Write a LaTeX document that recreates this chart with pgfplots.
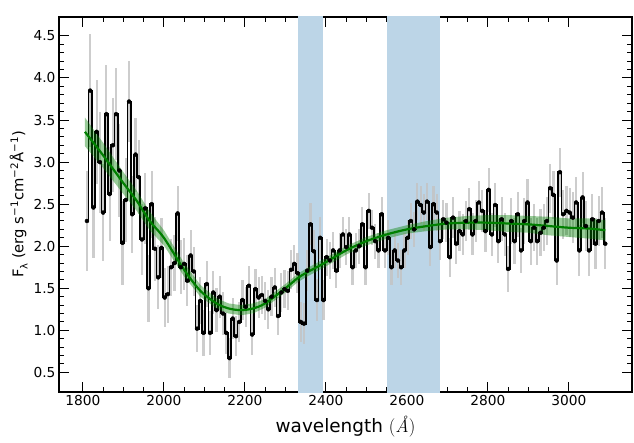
\documentclass[border=0pt]{standalone}
\usepackage{fontspec}
\setsansfont{DejaVu Sans}
\renewcommand{\familydefault}{\sfdefault}
\usepackage{pgfplots}
\usepackage{pgfplotstable}
\pgfplotsset{compat=1.18}
\definecolor{bandblue}{RGB}{188,213,231}
\definecolor{mplgreen}{RGB}{0,128,0}
\definecolor{errgray}{RGB}{196,196,196}

\pgfplotstableread{
x y e
1810 2.30 0.60
1818 3.85 0.67
1826 2.46 0.60
1834 3.36 0.62
1842 3.00 0.60
1850 2.40 0.58
1858 3.57 0.58
1866 2.62 0.56
1874 3.20 0.56
1882 3.57 0.55
1890 2.90 0.55
1898 2.04 0.50
1906 2.55 0.50
1914 3.72 0.48
1922 2.38 0.46
1930 3.09 0.44
1938 2.82 0.44
1946 2.08 0.42
1954 2.45 0.42
1962 1.50 0.40
1970 2.50 0.40
1978 1.97 0.38
1986 1.63 0.38
1994 1.98 0.36
2002 1.39 0.35
2010 1.43 0.34
2018 1.75 0.34
2026 1.80 0.33
2034 2.39 0.33
2042 1.75 0.32
2050 1.79 0.31
2058 1.59 0.30
2066 1.89 0.30
2074 1.70 0.29
2082 1.02 0.28
2090 1.35 0.28
2098 0.97 0.27
2106 1.55 0.27
2114 0.97 0.26
2122 1.45 0.26
2130 1.24 0.26
2138 1.40 0.25
2146 1.20 0.25
2154 0.97 0.25
2162 0.67 0.24
2170 1.14 0.24
2178 0.93 0.24
2186 1.10 0.24
2194 1.36 0.24
2202 1.28 0.24
2210 1.53 0.24
2218 0.95 0.24
2226 1.49 0.24
2234 1.39 0.24
2242 1.42 0.23
2250 1.35 0.23
2258 1.25 0.23
2266 1.40 0.23
2274 1.51 0.23
2282 1.17 0.23
2290 1.45 0.23
2298 1.49 0.23
2306 1.47 0.23
2314 1.72 0.23
2322 1.79 0.23
2330 1.68 0.24
2338 1.10 0.24
2346 1.08 0.24
2354 1.71 0.24
2362 2.26 0.25
2370 1.94 0.25
2378 1.36 0.25
2386 2.10 0.25
2394 1.36 0.24
2402 1.87 0.22
2410 1.83 0.22
2418 1.95 0.22
2426 1.71 0.21
2434 1.95 0.21
2442 2.14 0.21
2450 1.99 0.21
2458 2.14 0.21
2466 1.75 0.21
2474 1.95 0.21
2482 2.00 0.21
2490 2.26 0.21
2498 1.75 0.21
2506 2.42 0.21
2514 2.22 0.21
2522 2.06 0.21
2530 1.95 0.21
2538 2.38 0.21
2546 1.95 0.21
2554 2.10 0.21
2562 1.75 0.21
2570 1.95 0.21
2578 1.83 0.21
2586 1.75 0.21
2594 1.95 0.21
2602 2.10 0.21
2610 2.30 0.21
2618 2.20 0.21
2626 2.53 0.22
2634 2.49 0.22
2642 2.40 0.22
2650 2.53 0.22
2658 1.99 0.22
2666 2.50 0.22
2674 2.40 0.22
2682 2.06 0.22
2690 2.32 0.23
2698 2.28 0.23
2706 1.87 0.23
2714 2.34 0.24
2722 2.03 0.24
2730 2.18 0.24
2738 2.14 0.24
2746 2.30 0.24
2754 2.44 0.25
2762 2.14 0.25
2770 2.30 0.25
2778 2.52 0.25
2786 2.42 0.25
2794 2.18 0.25
2802 2.67 0.26
2810 2.14 0.26
2818 2.49 0.26
2826 2.06 0.26
2834 2.32 0.26
2842 2.14 0.26
2850 1.73 0.27
2858 2.30 0.27
2866 2.06 0.27
2874 2.38 0.27
2882 1.95 0.27
2890 2.30 0.27
2898 2.52 0.28
2906 2.06 0.28
2914 2.22 0.28
2922 2.06 0.28
2930 2.16 0.28
2938 2.22 0.28
2946 2.30 0.28
2954 2.69 0.29
2962 2.61 0.29
2970 1.83 0.29
2978 2.88 0.29
2986 2.38 0.29
2994 2.42 0.29
3002 2.40 0.29
3010 2.34 0.30
3018 2.52 0.30
3026 1.95 0.30
3034 2.58 0.30
3042 2.24 0.30
3050 1.95 0.30
3058 2.32 0.30
3066 2.03 0.30
3074 2.30 0.30
3082 2.40 0.30
3090 2.03 0.30
}\spec

\begin{document}
\begin{tikzpicture}
\begin{axis}[
  scale only axis,
  width=573bp, height=375bp,
  xmin=1741, xmax=3156,
  ymin=0.267, ymax=4.725,
  xtick={1800,2000,...,3000},
  ytick={0.5,1.0,...,4.5},
  minor x tick num=3,
  minor y tick num=4,
  tick align=inside,
  xtick pos=both, ytick pos=both,
  major tick length=10bp,
  minor tick length=5bp,
  every tick/.style={black, line width=1bp},
  axis line style={line width=1.2bp},
  tick label style={font=\fontsize{13.8}{14}\selectfont},
  /pgf/number format/assume math mode=true,
  yticklabel style={/pgf/number format/.cd, fixed, fixed zerofill, precision=1},
  xticklabel style={/pgf/number format/.cd, set thousands separator={}},
  scaled y ticks=false,
  xlabel={wavelength {\rmfamily(\textit{Å})}},
  xlabel style={font=\fontsize{18.5}{19}\selectfont, at={(axis description cs:0.5,0)}, anchor=base, yshift=-40bp},
  ylabel={F\raisebox{-0.3em}{\fontsize{10}{10}\selectfont λ} (erg s\textsuperscript{−1}cm\textsuperscript{−2}Å\textsuperscript{−1})},
  ylabel style={font=\fontsize{14.8}{15}\selectfont, at={(axis description cs:0,0.5)}, anchor=base, yshift=35.7bp},
]
\addplot[fill=bandblue, draw=none, forget plot] coordinates {(2331,0.2) (2392,0.2) (2392,5) (2331,5)} -- cycle;
\addplot[fill=bandblue, draw=none, forget plot] coordinates {(2551,0.2) (2681,0.2) (2681,5) (2551,5)} -- cycle;
\addplot[only marks, mark=none, forget plot,
  error bars/.cd, y dir=both, y explicit,
  error mark=none,
  error bar style={errgray, line width=2.2bp, opacity=0.85}]
  table[x=x, y=y, y error=e] {\spec};
\addplot[const plot mark mid, black, line width=1.8bp, mark=none] table[x=x, y=y] {\spec};
\addplot[fill=mplgreen, fill opacity=0.4, draw=none] coordinates {
(1805,3.53) (1850,3.23) (1900,2.88) (1933,2.66) (1965,2.41) (2000,2.19) (2050,1.80) (2090,1.54) (2130,1.38) (2160,1.32) (2190,1.30) (2220,1.32) (2250,1.37) (2300,1.55) (2330,1.67) (2350,1.73) (2385,1.82) (2400,1.86) (2450,2.00) (2500,2.11) (2550,2.19) (2600,2.25) (2650,2.30) (2700,2.34) (2750,2.36) (2800,2.37) (2850,2.37) (2900,2.36) (2950,2.35) (3000,2.33) (3050,2.33) (3090,2.31)
(3090,2.07) (3050,2.09) (3000,2.11) (2950,2.13) (2900,2.16) (2850,2.17) (2800,2.19) (2750,2.20) (2700,2.20) (2650,2.18) (2600,2.15) (2550,2.09) (2500,2.01) (2450,1.90) (2400,1.76) (2385,1.72) (2350,1.63) (2330,1.57) (2300,1.45) (2250,1.27) (2220,1.20) (2190,1.18) (2160,1.20) (2130,1.26) (2090,1.40) (2050,1.64) (2000,2.01) (1965,2.19) (1933,2.42) (1900,2.62) (1850,2.93) (1805,3.19)
} -- cycle;
\addplot[mplgreen, line width=2.2bp, smooth, mark=none] coordinates {
(1805,3.36) (1850,3.08) (1900,2.75) (1933,2.54) (1965,2.30) (2000,2.10) (2050,1.72) (2090,1.47) (2130,1.32) (2160,1.26) (2190,1.24) (2220,1.26) (2250,1.32) (2300,1.50) (2330,1.62) (2350,1.68) (2385,1.77) (2400,1.81) (2450,1.95) (2500,2.06) (2550,2.14) (2600,2.20) (2650,2.24) (2700,2.27) (2750,2.28) (2800,2.28) (2850,2.27) (2900,2.26) (2950,2.24) (3000,2.22) (3050,2.21) (3090,2.19)
};
\coordinate (sw) at (rel axis cs:0,0);
\node[anchor=base west, inner sep=0pt, font=\fontsize{13.8}{14}\selectfont] at (rel axis cs:0,1) [yshift=3bp] {1e−16};
\end{axis}
\pgfresetboundingbox
\path[use as bounding box] ([shift={(-59bp,-51bp)}]sw) rectangle ++(634bp,443bp);
\end{tikzpicture}
\end{document}
